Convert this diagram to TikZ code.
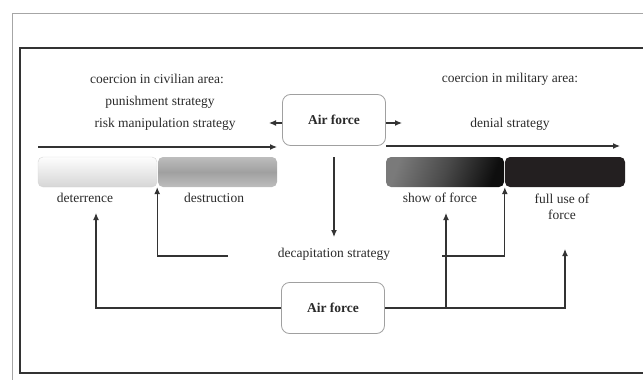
\documentclass[tikz,border=0pt]{standalone}
\usepackage{fontspec}
\setmainfont{Liberation Serif}
\usetikzlibrary{arrows.meta}
\definecolor{ln}{HTML}{333333}
\definecolor{frame}{HTML}{A6A6A6}
\definecolor{boxb}{HTML}{A0A0A0}
\definecolor{txt}{HTML}{2A2A2A}
\definecolor{baronetop}{HTML}{FDFDFD}
\definecolor{baronebot}{HTML}{D6D6D6}
\definecolor{bartwoedge}{HTML}{BDBDBD}
\definecolor{bartwomid}{HTML}{A0A0A0}
\definecolor{barthreeleft}{HTML}{7A7A7A}
\definecolor{barthreemid}{HTML}{4A4A4A}
\definecolor{barthreeright}{HTML}{0E0E0E}
\definecolor{barfour}{HTML}{231F20}
\tikzset{
  lbl/.style={text=txt,font=\fontsize{13.5}{16}\selectfont,inner sep=0pt,align=center},
  afbox/.style={draw=boxb,line width=0.8pt,rounded corners=8pt,fill=white,
     minimum width=103pt,minimum height=51pt,text=txt,
     font=\fontsize{13.5}{16}\selectfont\bfseries},
  bar/.style={rounded corners=5pt,minimum width=119pt,minimum height=30pt,inner sep=0pt},
  conn/.style={draw=ln,line width=1.2pt},
  arr/.style={conn,-{Latex[length=7pt,width=6pt]}}
}
\begin{document}
\begin{tikzpicture}[x=1pt,y=-1pt]
\useasboundingbox (0,0) rectangle (643,380);
% frames
\draw[frame,line width=1pt] (12,380) -- (12,13) -- (643,13);
\draw[ln,line width=1.4pt] (643,48) -- (20,48) -- (20,373) -- (643,373);
% bars
\node[bar,draw=baronebot,top color=baronetop,bottom color=baronebot] (bar1) at (97.5,172) {};
\node[bar,top color=bartwoedge,bottom color=bartwoedge,middle color=bartwomid] (bar2) at (217.5,172) {};
\node[bar,minimum width=118pt,left color=barthreeleft,right color=barthreeright,middle color=barthreemid,shading angle=70] (bar3) at (445,172) {};
\node[bar,minimum width=120pt,fill=barfour] (bar4) at (565,172) {};
% labels
\node[lbl] (civ) at (157,79) {coercion in civilian area:};
\node[lbl] (pun) at (160,102) {punishment strategy};
\node[lbl] (risk) at (165,124) {risk manipulation strategy};
\node[lbl] (mil) at (510,79) {coercion in military area:};
\node[lbl] (den) at (510,124) {denial strategy};
\node[lbl] (det) at (85,198) {deterrence};
\node[lbl] (des) at (214,198) {destruction};
\node[lbl] (sof) at (440,198) {show of force};
\node[lbl] (full) at (562,207) {full use of\\force};
\node[lbl] (dec) at (334,254) {decapitation strategy};
% air force boxes
\node[afbox] (af1) at (334,120) {Air force};
\node[afbox] (af2) at (333,308) {Air force};
% coordinates
\coordinate (ls) at (38,147);
\coordinate (le) at (277,147);
\coordinate (rs) at (386,146);
\coordinate (re) at (620,146);
\coordinate (afl) at (269,123);
\coordinate (afr) at (402,123);
\coordinate (dtop) at (334,157);
\coordinate (dtip) at (334,237);
\coordinate (detip) at (96,213);
\coordinate (dl) at (228,256);
\coordinate (dr) at (442,256);
\coordinate (softip) at (446,213);
\coordinate (junc) at (446,308);
\coordinate (fulltip) at (565,249);
% connectors
\draw[arr] (ls) -- (le);
\draw[arr] (rs) -- (re);
\draw[arr] (af1.west |- afl) -- (afl);
\draw[arr] (af1.east |- afr) -- (afr);
\draw[arr] (dtop) -- (dtip);
\draw[arr] (af2.west) -| (detip);
\draw[arr] (dl) -| (bar1.south east);
\draw[arr] (af2.east) -| (fulltip);
\draw[arr] (junc) -- (softip);
\draw[arr] (dr) -| (bar4.south west);
\end{tikzpicture}
\end{document}
